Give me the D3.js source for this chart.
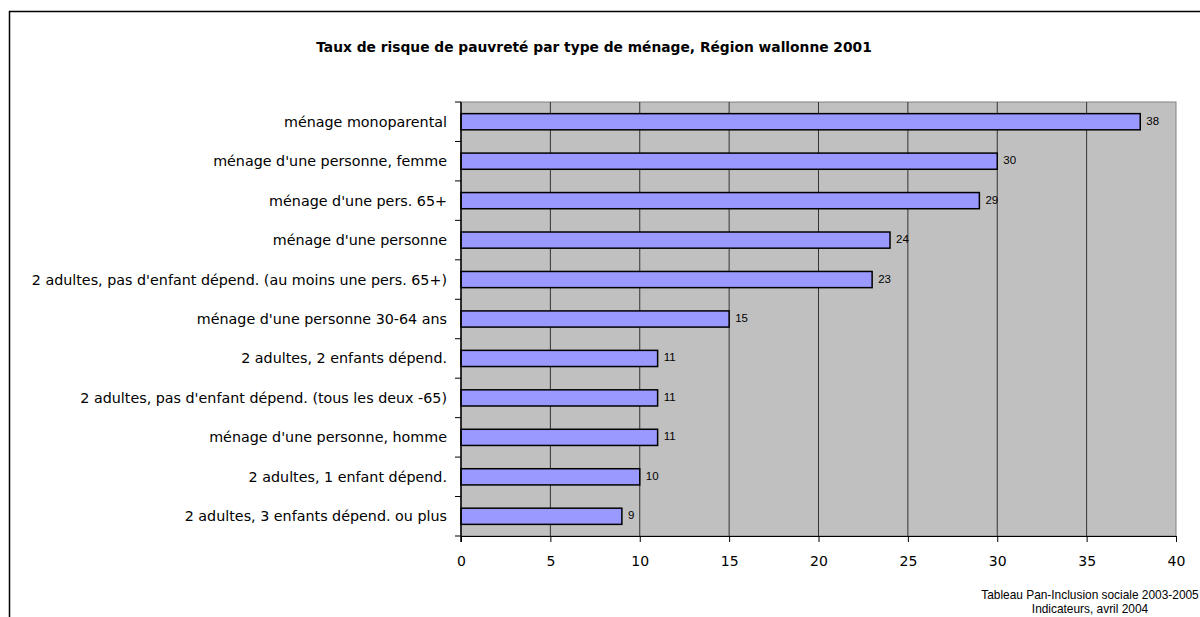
<!DOCTYPE html>
<html>
<head>
<meta charset="utf-8">
<script src="https://cdn.jsdelivr.net/npm/d3@7"></script>
<style>
  html, body { margin: 0; padding: 0; background: #fff; }
  svg { display: block; }
</style>
</head>
<body>
<svg id="chart" width="1200" height="617"></svg>
<script>
// Household types, top to bottom
const categories = [
  "ménage monoparental",
  "ménage d'une personne, femme",
  "ménage d'une pers. 65+",
  "ménage d'une personne",
  "2 adultes, pas d'enfant dépend. (au moins une pers. 65+)",
  "ménage d'une personne 30-64 ans",
  "2 adultes, 2 enfants dépend.",
  "2 adultes, pas d'enfant dépend. (tous les deux -65)",
  "ménage d'une personne, homme",
  "2 adultes, 1 enfant dépend.",
  "2 adultes, 3 enfants dépend. ou plus"
];
// Poverty risk rate (%)
const values = [38, 30, 29, 24, 23, 15, 11, 11, 11, 10, 9];
const xTicks = [0, 5, 10, 15, 20, 25, 30, 35, 40];
const titleText = "Taux de risque de pauvreté par type de ménage, Région wallonne 2001";
const sourceLines = ["Tableau Pan-Inclusion sociale 2003-2005", "Indicateurs, avril 2004"];

const svg = d3.select("#chart");
const labelFont = "'DejaVu Sans', 'Noto Sans', sans-serif";
const numFont = "'Liberation Sans', Arial, sans-serif";

// Outer frame
svg.append("rect")
  .attr("x", 9.5).attr("y", 11.5)
  .attr("width", 1300).attr("height", 700)
  .attr("fill", "#fff").attr("stroke", "#000").attr("stroke-width", 1.5);

// Title
svg.append("text")
  .attr("x", 594).attr("y", 52)
  .attr("text-anchor", "middle")
  .attr("font-family", labelFont)
  .attr("font-weight", "bold")
  .attr("font-size", 13.8)
  .attr("fill", "#000")
  .text(titleText);

const plot = { left: 461, right: 1176, top: 102, bottom: 536 };

const x = d3.scaleLinear().domain([0, 40]).range([plot.left, plot.right]);
const y = d3.scaleBand().domain(categories).range([plot.top, plot.bottom]).paddingInner(0.59).paddingOuter(0.295);
const yOuter = d3.scaleBand().domain(categories).range([plot.top, plot.bottom]);

// Plot background
svg.append("rect")
  .attr("x", plot.left).attr("y", plot.top)
  .attr("width", plot.right - plot.left).attr("height", plot.bottom - plot.top)
  .attr("fill", "#c0c0c0").attr("stroke", "#808080").attr("stroke-width", 1);

// Vertical gridlines
svg.append("g")
  .selectAll("line")
  .data(xTicks.filter(t => t > 0 && t < 40))
  .join("line")
  .attr("x1", d => x(d)).attr("x2", d => x(d))
  .attr("y1", plot.top).attr("y2", plot.bottom)
  .attr("stroke", "#333").attr("stroke-width", 1);

// Bars
svg.append("g")
  .selectAll("rect")
  .data(values)
  .join("rect")
  .attr("x", x(0))
  .attr("y", (d, i) => y(categories[i]))
  .attr("width", d => x(d) - x(0))
  .attr("height", y.bandwidth())
  .attr("fill", "#9999ff")
  .attr("stroke", "#000")
  .attr("stroke-width", 1.5);

// Value labels
svg.append("g")
  .selectAll("text")
  .data(values)
  .join("text")
  .attr("x", d => x(d) + 6)
  .attr("y", (d, i) => y(categories[i]) + y.bandwidth() / 2 - 1)
  .attr("dominant-baseline", "central")
  .attr("font-family", numFont)
  .attr("font-size", 11.5)
  .attr("fill", "#000")
  .text(d => d);

// X axis
const xAxis = svg.append("g")
  .attr("transform", `translate(0,${plot.bottom})`)
  .call(d3.axisBottom(x).tickValues(xTicks).tickSize(6).tickPadding(14).tickSizeOuter(0));
xAxis.select(".domain").attr("stroke", "#000").attr("stroke-width", 1);
xAxis.selectAll(".tick line").attr("stroke", "#000");
xAxis.selectAll(".tick text")
  .attr("font-family", labelFont)
  .attr("font-size", 14)
  .attr("fill", "#000");

// Y axis: ticks sit on category boundaries
const yAxisG = svg.append("g").attr("transform", `translate(${plot.left},0)`);
yAxisG.append("line")
  .attr("x1", 0).attr("x2", 0)
  .attr("y1", plot.top).attr("y2", plot.bottom + 6)
  .attr("stroke", "#000").attr("stroke-width", 1.5);
const boundaries = categories.map(c => yOuter(c)).concat([plot.bottom]);
yAxisG.selectAll("line.tk")
  .data(boundaries)
  .join("line")
  .attr("class", "tk")
  .attr("x1", -6).attr("x2", 0)
  .attr("y1", d => d).attr("y2", d => d)
  .attr("stroke", "#000");
yAxisG.selectAll("text")
  .data(categories)
  .join("text")
  .attr("x", -14)
  .attr("y", d => yOuter(d) + yOuter.bandwidth() / 2)
  .attr("dominant-baseline", "central")
  .attr("text-anchor", "end")
  .attr("font-family", labelFont)
  .attr("font-size", 14.3)
  .attr("fill", "#000")
  .text(d => d);

// Source note
svg.append("g")
  .selectAll("text")
  .data(sourceLines)
  .join("text")
  .attr("x", 1090)
  .attr("y", (d, i) => 599 + i * 14)
  .attr("text-anchor", "middle")
  .attr("font-family", numFont)
  .attr("font-size", 11.9)
  .attr("fill", "#000")
  .text(d => d);
</script>
</body>
</html>
